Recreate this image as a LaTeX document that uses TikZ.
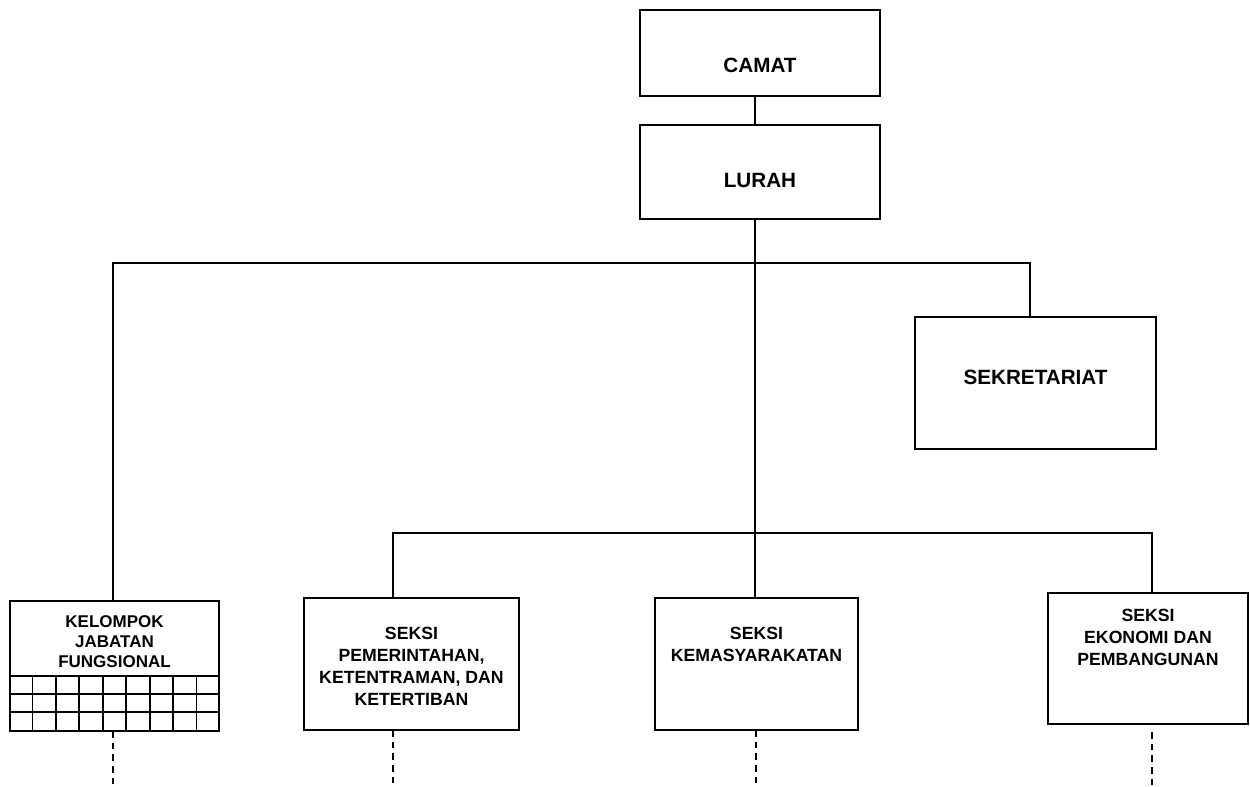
\documentclass[tikz,border=0pt]{standalone}
\usepackage{fontspec}
\setmainfont{Liberation Sans}
\usetikzlibrary{calc}
\begin{document}
\begin{tikzpicture}[x=0.75pt,y=-0.75pt,
  box/.style={draw,line width=1.5pt,rectangle,inner sep=0pt},
  conn/.style={line width=1.1pt},
  dashconn/.style={line width=1.1pt,dash pattern=on 5pt off 3.75pt},
  big/.style={font=\fontsize{15.5}{16.5}\selectfont\bfseries,align=center,inner sep=0pt},
  small/.style={font=\fontsize{13.25}{16.5}\selectfont\bfseries,align=center,inner sep=0pt},
  grid/.style={line width=1.2pt}]
\useasboundingbox (0,0) rectangle (1250,787);

% boxes
\node[box,minimum width=180pt,minimum height=64.5pt] (camat) at (760,53) {};
\node[box,minimum width=180pt,minimum height=70.5pt] (lurah) at (760,172) {};
\node[box,minimum width=180.75pt,minimum height=99pt] (sek) at (1035.5,383) {};
\node[box,minimum width=157pt,minimum height=97.5pt] (kel) at (114.5,666) {};
\node[box,minimum width=161.25pt,minimum height=99pt] (pem) at (411.5,664) {};
\node[box,minimum width=152.25pt,minimum height=99pt] (kem) at (756.5,664) {};
\node[box,minimum width=150pt,minimum height=98.25pt] (eko) at (1148,658.5) {};

% labels
\node[big] (tcamat) at (760,65) {CAMAT};
\node[big] (tlurah) at (760,180) {LURAH};
\node[big] (tsek) at (1035.5,377) {SEKRETARIAT};
\node[small,font=\fontsize{12.75}{15}\selectfont\bfseries] (tkel) at (114.5,642) {KELOMPOK\\JABATAN\\FUNGSIONAL};
\node[small] (tpem) at (411.5,666) {SEKSI\\PEMERINTAHAN,\\KETENTRAMAN, DAN\\KETERTIBAN};
\node[small] (tkem) at (756.5,644) {SEKSI\\KEMASYARAKATAN};
\node[small] (teko) at (1148,637.5) {SEKSI\\EKONOMI DAN\\PEMBANGUNAN};

% grid in kelompok box
\draw[grid] (kel.west |- 0,676) -- (kel.east |- 0,676);
\draw[grid] (kel.west |- 0,694) -- (kel.east |- 0,694);
\draw[grid] (kel.west |- 0,712) -- (kel.east |- 0,712);
\foreach \i in {1,...,8} {
  \draw[grid] ($(kel.south west)!\i/9!(kel.south east)$) -- ++(0,-55);
}

% connector coordinates
\coordinate (kelTop) at (113,601);
\coordinate (sekTop) at (1030,317);
\coordinate (pemTop) at (393,598);
\coordinate (ekoTop) at (1152,593);
\coordinate (busA) at (755,263);
\coordinate (busB) at (755,533);
\coordinate (kelBot) at (113,731);
\coordinate (pemBot) at (393,730);
\coordinate (kemBot) at (756,730);
\coordinate (ekoBot) at (1152,732);
\coordinate (kelEnd) at (113,787);
\coordinate (pemEnd) at (393,787);
\coordinate (kemEnd) at (756,787);
\coordinate (ekoEnd) at (1152,787);

% connectors
\draw[conn] (camat.south -| busA) -- (lurah.north -| busA);
\draw[conn] (lurah.south -| busA) -- (kem.north -| busA);
\draw[conn] (kelTop) -- (kelTop |- busA) -- (sekTop |- busA) -- (sekTop);
\draw[conn] (pemTop) -- (pemTop |- busB) -- (ekoTop |- busB) -- (ekoTop);

% dashed continuations
\draw[dashconn] (kelBot) -- (kelEnd);
\draw[dashconn] (pemBot) -- (pemEnd);
\draw[dashconn] (kemBot) -- (kemEnd);
\draw[dashconn] (ekoBot) -- (ekoEnd);
\end{tikzpicture}
\end{document}
